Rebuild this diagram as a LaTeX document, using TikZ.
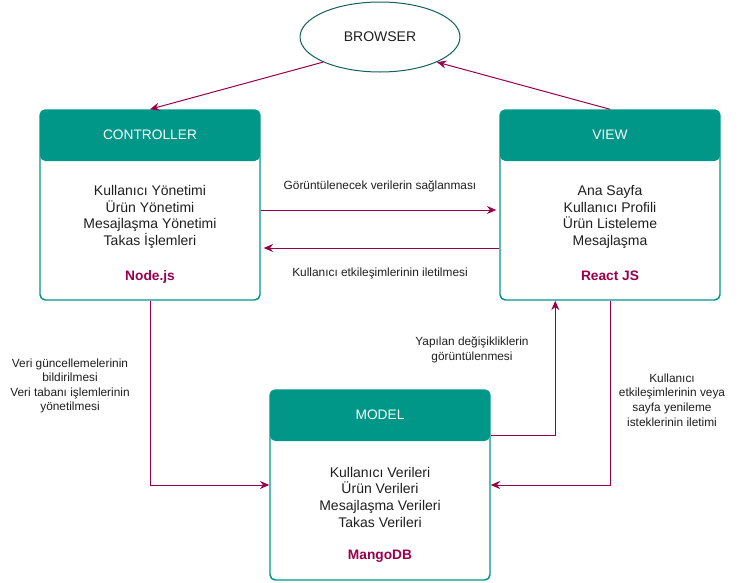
\documentclass[tikz,border=0pt]{standalone}
\usepackage{fontspec}
\setmainfont{Liberation Sans}
\usetikzlibrary{arrows.meta, positioning, calc, shapes.geometric}
\definecolor{tealhead}{RGB}{0,150,136}
\definecolor{ovalline}{RGB}{20,95,95}
\definecolor{wine}{RGB}{153,0,76}
\definecolor{txtgray}{RGB}{30,30,30}

\begin{document}
\begin{tikzpicture}[x=0.75pt, y=-0.75pt,
  box/.style={draw=tealhead, line width=1.1pt, rounded corners=4pt,
    minimum width=165pt, minimum height=142.5pt, inner sep=0pt,
    path picture={\fill[tealhead] (path picture bounding box.north west)
      rectangle ([yshift=-38.25pt]path picture bounding box.north east);}},
  head/.style={text=white, font=\fontsize{10.3}{12}\selectfont},
  body/.style={align=center, text=txtgray, font=\fontsize{10.5}{12.5}\selectfont},
  tech/.style={text=wine, font=\fontsize{10.3}{12}\selectfont\bfseries},
  lbl/.style={align=center, text=txtgray, font=\fontsize{8.9}{10.9}\selectfont},
  conn/.style={draw=wine, line width=0.75pt, -{Stealth[length=7pt, width=6pt]}}]
  \useasboundingbox (0,0) rectangle (741,582);

  \node[draw=ovalline, line width=0.75pt, ellipse, minimum width=120pt, minimum height=52.5pt,
    inner sep=0pt, text=txtgray, font=\fontsize{10.5}{12}\selectfont] (browser) at (380,37) {BROWSER};

  % controller
  \node[box] (ctrl) at (150,205) {};
  \node[head] (ctrl-head) at (150,135) {CONTROLLER};
  \node[body] (ctrl-body) at (150,217) {Kullanıcı Yönetimi\\Ürün Yönetimi\\Mesajlaşma Yönetimi\\Takas İşlemleri};
  \node[tech] (ctrl-tech) at (150,277) {Node.js};

  % view
  \node[box] (view) at (610,205) {};
  \node[head] (view-head) at (610,135) {VIEW};
  \node[body] (view-body) at (610,217) {Ana Sayfa\\Kullanıcı Profili\\Ürün Listeleme\\Mesajlaşma};
  \node[tech] (view-tech) at (610,276) {React JS};

  % model
  \node[box] (model) at (380,485) {};
  \node[head] (model-head) at (380,415) {MODEL};
  \node[body] (model-body) at (380,497) {Kullanıcı Verileri\\Ürün Verileri\\Mesajlaşma Verileri\\Takas Verileri};
  \node[tech] (model-tech) at (380,556) {MangoDB};

  % connectors
  \draw[conn] (browser.south west) -- (ctrl.north);
  \draw[conn] (view.north) -- (browser.south east);
  \draw[conn] ($(ctrl.east)+(0,5)$) -- ($(view.west)+(-3,5)$);
  \draw[conn] ($(view.west)+(0,43)$) -- ($(ctrl.east)+(3,43)$);
  \draw[conn] (ctrl.south) |- (model.west);
  \draw[conn] (view.south) |- (model.east);
  \draw[conn] ($(model.north east)+(0,46)$) -| ($(view.south west)+(56,0)$);

  % labels
  \node[lbl] (lbl-give) at (380,186) {Görüntülenecek verilerin sağlanması};
  \node[lbl] (lbl-send) at (380,273) {Kullanıcı etkileşimlerinin iletilmesi};
  \node[lbl] (lbl-data) at (70,386) {Veri güncellemelerinin\\bildirilmesi\\Veri tabanı işlemlerinin\\yönetilmesi};
  \node[lbl] (lbl-show) at (472,350) {Yapılan değişikliklerin\\görüntülenmesi};
  \node[lbl] (lbl-user) at (672,400) {Kullanıcı\\etkileşimlerinin veya\\sayfa yenileme\\isteklerinin iletimi};
\end{tikzpicture}
\end{document}
